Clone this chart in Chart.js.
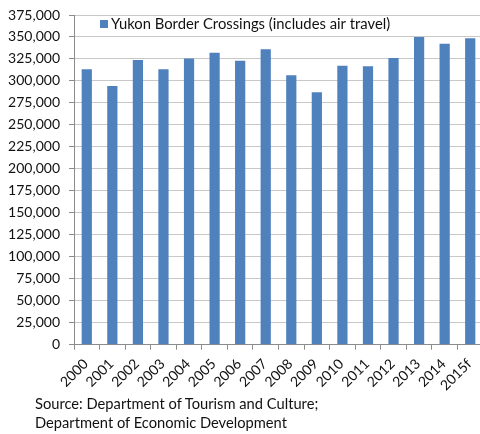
<!DOCTYPE html>
<html>
<head>
<meta charset="utf-8">
<script src="https://cdn.jsdelivr.net/npm/chart.js@4.4.1/dist/chart.umd.min.js"></script>
<style>
  html, body { margin: 0; padding: 0; background: #fff; overflow: hidden; }
  #wrap { position: relative; width: 480px; height: 434px; overflow: hidden; }
  #source {
    position: absolute; left: 35px; top: 394px;
    font-family: Lato, sans-serif; font-size: 14.7px; line-height: 19px; color: #111;
  }
</style>
</head>
<body>
<div id="wrap">
  <!-- plot runs a few pixels past the right edge, so the canvas is a bit wider than the frame -->
  <canvas id="crossings" width="483" height="434"></canvas>
  <div id="source">Source: Department of Tourism and Culture;<br>Department of Economic Development</div>
</div>
<script>
// Yukon border crossings by year (2015 is a forecast)
const years = ['2000', '2001', '2002', '2003', '2004', '2005', '2006', '2007',
  '2008', '2009', '2010', '2011', '2012', '2013', '2014', '2015f'];
const crossings = [313300, 294300, 323900, 313300, 325400, 332200, 323100, 336000,
  306400, 287100, 317400, 316700, 326100, 350000, 342400, 348500];
const seriesName = 'Yukon Border Crossings (includes air travel)';
const yMax = 375000;
const yStep = 25000;

const fontFamily = 'Lato, sans-serif';
const barBlue = '#4f81bd';
const gridGray = '#c8c8c8';
const axisGray = '#8c8c8c';
const textColor = '#111';

Chart.defaults.font.family = fontFamily;
Chart.defaults.color = textColor;

// Small legend drawn inside the plot, between the top two gridlines
const innerLegend = {
  id: 'innerLegend',
  afterDraw: (chart) => {
    let c = chart.ctx;
    let area = chart.chartArea;
    let ds = chart.data.datasets[0];
    let x = area.left + 26;
    let y = area.top + 9;
    c.save();
    c.fillStyle = ds.backgroundColor;
    c.fillRect(x, y - 4, 8, 8);
    c.fillStyle = textColor;
    c.font = '14.8px ' + fontFamily;
    c.textBaseline = 'middle';
    c.fillText(ds.label, x + 11, y);
    c.restore();
  }
};

let ctx = document.getElementById('crossings').getContext('2d');
let chart = new Chart(ctx, {
  type: 'bar',
  data: {
    labels: years,
    datasets: [{
      label: seriesName,
      data: crossings,
      backgroundColor: barBlue,
      borderWidth: 0,
      categoryPercentage: 1,
      barPercentage: 0.4
    }]
  },
  options: {
    responsive: false,
    animation: false,
    layout: { padding: { top: 0, right: 0, bottom: 34, left: 6 } },
    plugins: {
      legend: { display: false },
      tooltip: { enabled: false }
    },
    scales: {
      x: {
        offset: true,
        // rotated year labels may hang past the left edge of the plot
        afterFit: (scale) => {
          scale.paddingLeft = 0;
          scale.paddingRight = 0;
        },
        grid: {
          offset: true,
          drawOnChartArea: false,
          drawTicks: true,
          tickLength: 5,
          color: axisGray
        },
        border: { color: axisGray },
        ticks: {
          autoSkip: false,
          minRotation: 45,
          maxRotation: 45,
          padding: 6,
          labelOffset: -1,
          font: { size: 14 }
        }
      },
      y: {
        min: 0,
        max: yMax,
        // fixed gutter for the value labels and a fixed gap above the top gridline
        afterFit: (scale) => {
          scale.width = 68;
          scale.paddingTop = 15;
        },
        grid: { color: gridGray, tickLength: 5, tickColor: axisGray },
        border: { color: axisGray },
        ticks: {
          autoSkip: false,
          stepSize: yStep,
          padding: 9,
          font: { size: 14 },
          callback: (v) => v.toLocaleString('en-US')
        }
      }
    }
  },
  plugins: [innerLegend]
});
</script>
</body>
</html>
